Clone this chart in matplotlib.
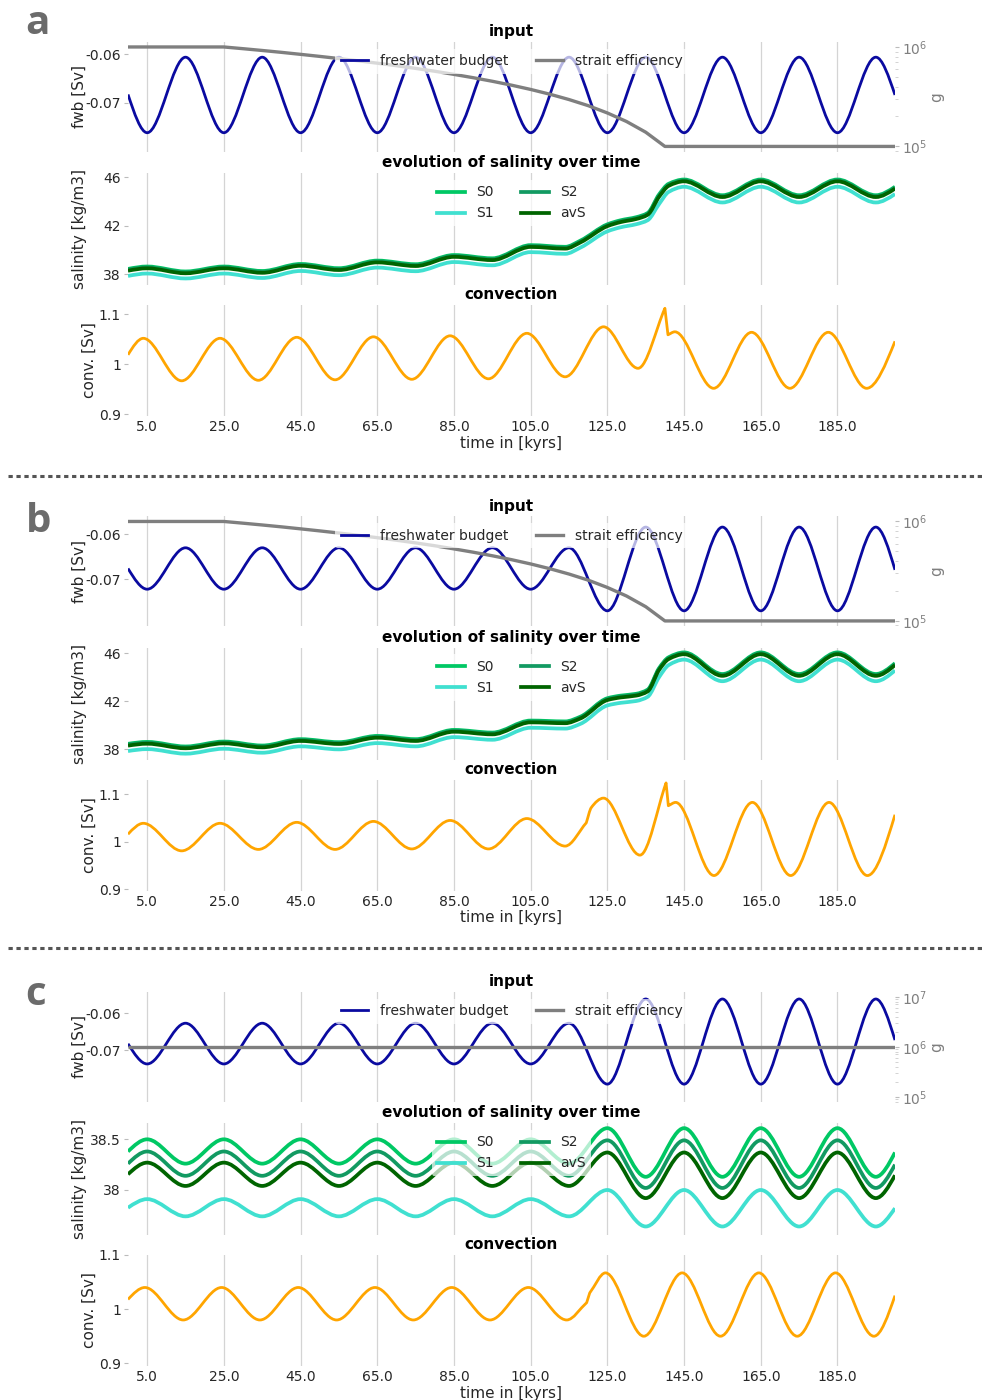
import numpy as np
import matplotlib
matplotlib.use("Agg")
import matplotlib.pyplot as plt
from matplotlib.path import Path
from matplotlib.patches import PathPatch
from matplotlib.lines import Line2D
from matplotlib.ticker import NullFormatter, LogLocator

plt.rcParams['font.family'] = ['DejaVu Sans']

# ------------------------------------------------------------------ data
time_ticks = [5, 25, 45, 65, 85, 105, 125, 145, 165, 185]
time_ticklabels = ['5.0', '25.0', '45.0', '65.0', '85.0', '105.0', '125.0', '145.0', '165.0', '185.0']

# freshwater budget (key points: extrema of the oscillation)
fwb_t = [0, 5, 15, 25, 35, 45, 55, 65, 75, 85, 95, 105, 115, 125, 135, 145, 155, 165, 175, 185, 195, 200]
fwb_a = [-0.0683, -0.0762, -0.0606, -0.0762, -0.0606, -0.0762, -0.0606, -0.0762, -0.0606, -0.0762, -0.0606,
         -0.0762, -0.0606, -0.0762, -0.0606, -0.0762, -0.0606, -0.0762, -0.0606, -0.0762, -0.0606, -0.0684]
fwb_b = [-0.0676, -0.0722, -0.0630, -0.0722, -0.0630, -0.0722, -0.0630, -0.0722, -0.0630, -0.0722, -0.0630,
         -0.0722, -0.0630, -0.0770, -0.0584, -0.0770, -0.0584, -0.0770, -0.0584, -0.0770, -0.0584, -0.0679]
fwb_c = [-0.0683, -0.0738, -0.0627, -0.0738, -0.0627, -0.0738, -0.0627, -0.0738, -0.0627, -0.0738, -0.0627,
         -0.0738, -0.0627, -0.0793, -0.0561, -0.0793, -0.0561, -0.0793, -0.0561, -0.0793, -0.0561, -0.0673]

# strait efficiency g
g_t_ab = [0, 25, 30, 35, 40, 45, 50, 55, 60, 65, 70, 75, 80, 85, 90, 95, 100, 105, 110, 115, 120, 125, 130, 135, 140, 200]
g_ab = [1.0e6, 1.0e6, 9.61e5, 9.22e5, 8.83e5, 8.43e5, 8.04e5, 7.65e5, 7.26e5, 6.87e5, 6.48e5, 6.09e5, 5.70e5,
        5.30e5, 4.91e5, 4.52e5, 4.13e5, 3.74e5, 3.35e5, 2.96e5, 2.57e5, 2.17e5, 1.78e5, 1.39e5, 1.0e5, 1.0e5]
g_t_c = [0, 200]
g_c = [1.0e6, 1.0e6]

# salinity
sal_t_ab = [0, 5, 15, 25, 35, 45, 55, 65, 75, 85, 95, 105, 114, 118, 125, 128.5, 132.5, 135.5, 138.5, 141,
            145, 155, 165, 175, 185, 195, 200]
S0_a = [38.42, 38.62, 38.21, 38.62, 38.25, 38.83, 38.48, 39.11, 38.81, 39.57, 39.30, 40.39, 40.25, 40.77, 42.11,
        42.45, 42.70, 43.05, 44.60, 45.47, 45.82, 44.52, 45.82, 44.52, 45.82, 44.52, 45.22]
S2_a = [38.35, 38.55, 38.14, 38.55, 38.18, 38.76, 38.41, 39.04, 38.74, 39.50, 39.23, 40.32, 40.18, 40.70, 42.04,
        42.38, 42.63, 42.98, 44.50, 45.38, 45.75, 44.45, 45.75, 44.45, 45.75, 44.45, 45.15]
avS_a = [38.27, 38.47, 38.06, 38.47, 38.10, 38.68, 38.33, 38.96, 38.66, 39.42, 39.15, 40.24, 40.10, 40.62, 41.96,
         42.30, 42.55, 42.90, 44.40, 45.30, 45.67, 44.37, 45.67, 44.37, 45.67, 44.37, 45.07]
S1_a = [37.84, 38.04, 37.63, 38.04, 37.67, 38.25, 37.90, 38.53, 38.23, 38.99, 38.72, 39.81, 39.67, 40.19, 41.53,
        41.87, 42.12, 42.45, 43.80, 44.80, 45.22, 43.92, 45.22, 43.92, 45.22, 43.92, 44.62]

S0_b = [38.43, 38.59, 38.21, 38.62, 38.29, 38.82, 38.57, 39.09, 38.82, 39.59, 39.37, 40.37, 40.30, 40.70, 42.23,
        42.45, 42.60, 42.95, 44.75, 45.65, 46.05, 44.25, 46.05, 44.25, 46.05, 44.25, 45.15]
S2_b = [38.36, 38.52, 38.14, 38.55, 38.22, 38.75, 38.50, 39.02, 38.75, 39.52, 39.30, 40.30, 40.23, 40.63, 42.16,
        42.38, 42.53, 42.88, 44.68, 45.58, 45.98, 44.18, 45.98, 44.18, 45.98, 44.18, 45.08]
avS_b = [38.28, 38.44, 38.06, 38.47, 38.14, 38.67, 38.42, 38.94, 38.67, 39.44, 39.22, 40.22, 40.15, 40.55, 42.08,
         42.30, 42.45, 42.80, 44.60, 45.50, 45.90, 44.10, 45.90, 44.10, 45.90, 44.10, 45.00]
S1_b = [37.83, 37.99, 37.61, 38.02, 37.69, 38.22, 37.97, 38.49, 38.22, 38.99, 38.77, 39.77, 39.70, 40.10, 41.63,
        41.85, 42.00, 42.35, 44.00, 45.00, 45.45, 43.65, 45.45, 43.65, 45.45, 43.65, 44.55]

sal_t_c = [0, 5, 15, 25, 35, 45, 55, 65, 75, 85, 95, 105, 115, 125, 135, 145, 155, 165, 175, 185, 195, 200]
S0_c = [38.38, 38.50, 38.26, 38.50, 38.26, 38.50, 38.26, 38.50, 38.26, 38.50, 38.26, 38.50, 38.26, 38.61, 38.13,
        38.61, 38.13, 38.61, 38.13, 38.61, 38.13, 38.37]
S2_c = [38.26, 38.38, 38.14, 38.38, 38.14, 38.38, 38.14, 38.38, 38.14, 38.38, 38.14, 38.38, 38.14, 38.49, 38.02,
        38.49, 38.02, 38.49, 38.02, 38.49, 38.02, 38.25]
avS_c = [38.155, 38.27, 38.04, 38.27, 38.04, 38.27, 38.04, 38.27, 38.04, 38.27, 38.04, 38.27, 38.04, 38.37, 37.92,
         38.37, 37.92, 38.37, 37.92, 38.37, 37.92, 38.145]
S1_c = [37.825, 37.91, 37.74, 37.91, 37.74, 37.91, 37.74, 37.91, 37.74, 37.91, 37.74, 37.91, 37.74, 38.00, 37.64,
        38.00, 37.64, 38.00, 37.64, 38.00, 37.64, 37.82]

# convection
conv_t_a = [0, 4, 14, 24, 34, 44, 54, 64, 74, 84, 94, 104, 114, 124, 133, 140, 140.8, 142.6, 152.7, 162.6, 172.6,
            182.6, 192.6, 200]
conv_a = [1.019, 1.052, 0.967, 1.052, 0.968, 1.054, 0.969, 1.055, 0.970, 1.057, 0.971, 1.062, 0.975, 1.075, 0.992,
          1.112, 1.059, 1.065, 0.952, 1.064, 0.952, 1.064, 0.952, 1.046]
conv_sharp_a = [140, 140.8]

conv_t_b = [0, 4, 14, 24, 34, 44, 54, 64, 74, 84, 94, 104, 114, 119.5, 120.8, 124, 133.5, 140.3, 140.9, 142.8,
            152.8, 162.8, 172.8, 182.8, 192.8, 200]
conv_b = [1.016, 1.039, 0.981, 1.039, 0.984, 1.041, 0.984, 1.043, 0.985, 1.045, 0.985, 1.049, 0.991, 1.040, 1.072,
          1.092, 0.972, 1.124, 1.076, 1.083, 0.929, 1.083, 0.929, 1.083, 0.929, 1.057]
conv_sharp_b = [119.5, 140.3, 140.9]

conv_t_c = [0, 4.4, 14.4, 24.4, 34.4, 44.4, 54.4, 64.4, 74.4, 84.4, 94.4, 104.4, 114.4, 119.6, 120.4, 124.5, 134.5,
            144.5, 154.5, 164.5, 174.5, 184.5, 194.5, 200]
conv_c = [1.018, 1.040, 0.980, 1.040, 0.980, 1.040, 0.980, 1.040, 0.980, 1.040, 0.980, 1.040, 0.980, 1.012, 1.030,
          1.067, 0.950, 1.067, 0.950, 1.067, 0.950, 1.067, 0.950, 1.025]
conv_sharp_c = [119.6, 120.4]

sal_ticks_ab = [38, 42, 46]
sal_ticklabels_ab = ['38', '42', '46']
sal_ticks_c = [38, 38.5]
sal_ticklabels_c = ['38', '38.5']
conv_ticks = [0.9, 1.0, 1.1]
conv_ticklabels = ['0.9', '1', '1.1']
fwb_ticks = [-0.07, -0.06]
fwb_ticklabels = ['-0.07', '-0.06']

# ------------------------------------------------------------------ style
W, H = 982, 1400
TXT = '#262626'
C_FWB = '#0a0aa0'
C_G = '#7f7f7f'
C_S0 = '#00c864'
C_S1 = '#40e0d0'
C_S2 = '#129a62'
C_AVS = '#006400'
C_CONV = '#ffa500'
GRID = '#d4d4d4'
LW_S = 2.7

fig = plt.figure(figsize=(W / 100, H / 100), dpi=100)


def rect(x0, y0, x1, y1):
    return [x0 / W, 1 - y1 / H, (x1 - x0) / W, (y1 - y0) / H]


def smooth_path(t, y, sharp=()):
    t = np.asarray(t, float)
    y = np.asarray(y, float)
    n = len(t)
    h = np.diff(t)
    d = np.diff(y) / h
    m_in = np.zeros(n)
    m_out = np.zeros(n)
    sharp_idx = {int(np.argmin(np.abs(t - s))) for s in sharp}
    for i in range(1, n - 1):
        if i in sharp_idx:
            m_in[i], m_out[i] = d[i - 1], d[i]
        elif d[i - 1] * d[i] <= 0:
            m_in[i] = m_out[i] = 0.0
        else:
            w1 = 2 * h[i] + h[i - 1]
            w2 = h[i] + 2 * h[i - 1]
            m = (w1 + w2) / (w1 / d[i - 1] + w2 / d[i])
            m_in[i] = m_out[i] = m
    m_out[0] = 1.5 * d[0]
    m_in[-1] = 1.5 * d[-1]
    verts = [(t[0], y[0])]
    codes = [Path.MOVETO]
    for i in range(n - 1):
        verts += [(t[i] + h[i] / 3, y[i] + m_out[i] * h[i] / 3),
                  (t[i + 1] - h[i] / 3, y[i + 1] - m_in[i + 1] * h[i] / 3),
                  (t[i + 1], y[i + 1])]
        codes += [Path.CURVE4] * 3
    return Path(verts, codes)


def add_curve(ax, t, y, color, lw, sharp=(), z=2):
    ax.add_patch(PathPatch(smooth_path(t, y, sharp), facecolor='none', edgecolor=color, lw=lw,
                           capstyle='butt', joinstyle='round', zorder=z))


def base_style(ax, label_x, xlabels=False):
    for s in ax.spines.values():
        s.set_visible(False)
    ax.set_xlim(0, 200)
    ax.set_xticks(time_ticks)
    if xlabels:
        ax.set_xticklabels(time_ticklabels)
    else:
        ax.set_xticklabels([])
    ax.grid(axis='x', color=GRID, lw=0.9)
    ax.grid(axis='y', visible=False)
    ax.set_axisbelow(True)
    ax.tick_params(axis='x', length=0, pad=3, labelsize=10, labelcolor=TXT)
    ax.tick_params(axis='y', length=3, width=0.8, color='#bbbbbb', pad=2, labelsize=10, labelcolor=TXT)
    ax.yaxis.set_label_coords(label_x, 0.5)


def legend(ax, handles, ncol):
    lg = ax.legend(handles=handles, loc='upper center', ncol=ncol, fontsize=10, frameon=True,
                   framealpha=0.7, facecolor='white', edgecolor='none', borderaxespad=0.5,
                   handlelength=2.0, columnspacing=2.0, labelcolor=TXT)
    return lg


def panel(o, letter, letter_x, letter_base, fwb, fwb_ylim, g_t, g, g_ylim,
          sal_t, S0, S1, S2, avS, sal_ylim, sal_ticks, sal_ticklabels,
          conv_t, conv, conv_sharp, conv_ylim):
    x0, x1 = 128, 895
    # ---------------- input
    ax = fig.add_axes(rect(x0, 41.7 + o, x1, 151.7 + o))
    base_style(ax, -0.0535)
    add_curve(ax, fwb_t, fwb, C_FWB, 2.0)
    ax.set_ylim(*fwb_ylim)
    ax.set_yticks(fwb_ticks)
    ax.set_yticklabels(fwb_ticklabels)
    ax.set_ylabel('fwb [Sv]', fontsize=11, color=TXT)
    ax.set_title('input', fontsize=11, fontweight='bold', pad=4)
    ax2 = ax.twinx()
    for s in ax2.spines.values():
        s.set_visible(False)
    ax2.set_yscale('log')
    ax2.plot(g_t, g, color=C_G, lw=2.4, solid_capstyle='butt')
    ax2.set_ylim(*g_ylim)
    ax2.set_xlim(0, 200)
    ax2.yaxis.set_major_locator(LogLocator(base=10))
    ax2.yaxis.set_minor_formatter(NullFormatter())
    ax2.tick_params(axis='y', which='major', length=3, width=0.8, color='#bbbbbb', labelsize=10,
                    labelcolor=C_G, pad=2)
    ax2.tick_params(axis='y', which='minor', length=2, width=0.6, color='#cccccc')
    ax2.set_ylabel('g', fontsize=11, color=C_G, labelpad=1)
    ax2.grid(False)
    legend(ax2, [Line2D([], [], color=C_FWB, lw=2.0, label='freshwater budget'),
                 Line2D([], [], color=C_G, lw=2.4, label='strait efficiency')], 2)

    # ---------------- salinity
    ax = fig.add_axes(rect(x0, 173 + o, x1, 285 + o))
    base_style(ax, -0.0535)
    add_curve(ax, sal_t, S1, C_S1, LW_S, z=2)
    add_curve(ax, sal_t, S0, C_S0, LW_S, z=3)
    add_curve(ax, sal_t, S2, C_S2, LW_S, z=4)
    add_curve(ax, sal_t, avS, C_AVS, LW_S, z=5)
    ax.set_ylim(*sal_ylim)
    ax.set_yticks(sal_ticks)
    ax.set_yticklabels(sal_ticklabels)
    ax.set_ylabel('salinity [kg/m3]', fontsize=11, color=TXT)
    ax.set_title('evolution of salinity over time', fontsize=11, fontweight='bold', pad=4)
    legend(ax, [Line2D([], [], color=C_S0, lw=LW_S, label='S0'),
                Line2D([], [], color=C_S1, lw=LW_S, label='S1'),
                Line2D([], [], color=C_S2, lw=LW_S, label='S2'),
                Line2D([], [], color=C_AVS, lw=LW_S, label='avS')], 2)

    # ---------------- convection
    ax = fig.add_axes(rect(x0, 305 + o, x1, 416 + o))
    base_style(ax, -0.0404, xlabels=True)
    add_curve(ax, conv_t, conv, C_CONV, 2.0, sharp=conv_sharp)
    ax.set_ylim(*conv_ylim)
    ax.set_yticks(conv_ticks)
    ax.set_yticklabels(conv_ticklabels)
    ax.set_ylabel('conv. [Sv]', fontsize=11, color=TXT)
    ax.set_xlabel('time in [kyrs]', fontsize=11, color=TXT, labelpad=1)
    ax.set_title('convection', fontsize=11, fontweight='bold', pad=4)

    fig.text(letter_x / W, 1 - letter_base / H, letter, fontsize=29, fontweight='bold', color='#6b6b6b',
             ha='left', va='baseline', family=['Open Sans', 'DejaVu Sans'])


panel(0, 'a', 25, 34, fwb_a, (-0.08012, -0.0574), g_t_ab, g_ab, (10 ** 4.947, 10 ** 6.053),
      sal_t_ab, S0_a, S1_a, S2_a, avS_a, (37.09, 46.36), sal_ticks_ab, sal_ticklabels_ab,
      conv_t_a, conv_a, conv_sharp_a, (0.8966, 1.1186))
panel(474.5, 'b', 26, 532, fwb_b, (-0.08042, -0.05598), g_t_ab, g_ab, (10 ** 4.947, 10 ** 6.053),
      sal_t_ab, S0_b, S1_b, S2_b, avS_b, (37.125, 46.46), sal_ticks_ab, sal_ticklabels_ab,
      conv_t_b, conv_b, conv_sharp_b, (0.8975, 1.1312))
panel(950, 'c', 25, 1005, fwb_c, (-0.08409, -0.05411), g_t_c, g_c, (10 ** 4.9, 10 ** 7.1),
      sal_t_c, S0_c, S1_c, S2_c, avS_c, (37.556, 38.661), sal_ticks_c, sal_ticklabels_c,
      conv_t_c, conv_c, conv_sharp_c, (0.895, 1.1))

# dotted separators
for ysep in (476, 948):
    fig.add_artist(Line2D([8 / W, 1.0], [1 - ysep / H, 1 - ysep / H], transform=fig.transFigure,
                          color='#555555', lw=2.2, linestyle=(0, (1.4, 1.2)), solid_capstyle='butt',
                          dash_capstyle='butt'))

fig.savefig('out.png', dpi=100)
